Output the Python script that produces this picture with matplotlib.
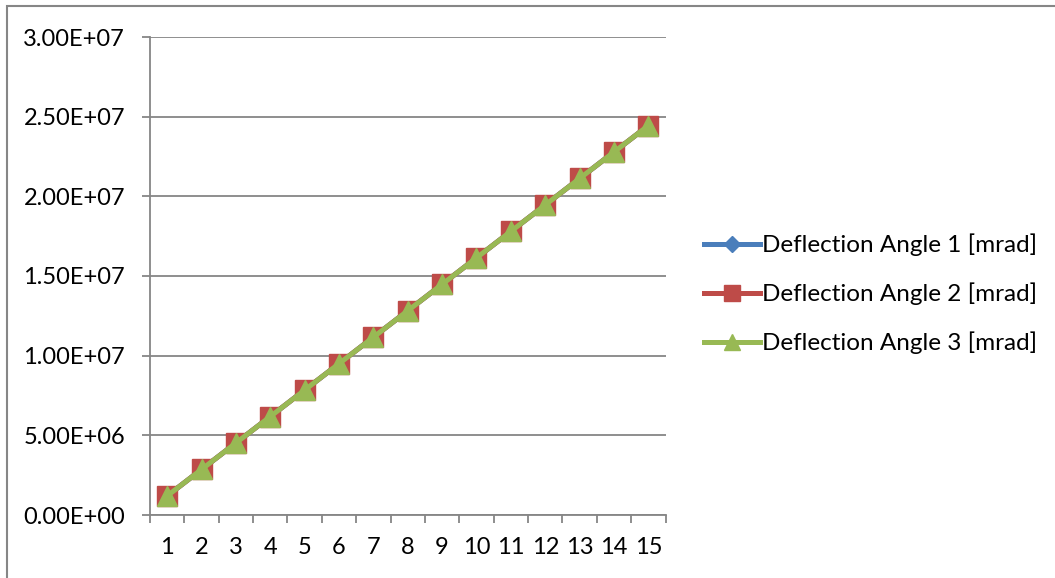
import matplotlib
matplotlib.use("Agg")
import matplotlib.pyplot as plt
from matplotlib.patches import Rectangle
from matplotlib.ticker import FixedLocator, FuncFormatter

plt.rcParams["font.family"] = ["Lato", "DejaVu Sans"]

steps = list(range(1, 16))
angle_1 = [1.20e6, 2.86e6, 4.52e6, 6.18e6, 7.84e6, 9.50e6, 11.16e6, 12.82e6,
           14.48e6, 16.14e6, 17.80e6, 19.46e6, 21.12e6, 22.78e6, 24.44e6]
angle_2 = [1.20e6, 2.86e6, 4.52e6, 6.18e6, 7.84e6, 9.50e6, 11.16e6, 12.82e6,
           14.48e6, 16.14e6, 17.80e6, 19.46e6, 21.12e6, 22.78e6, 24.44e6]
angle_3 = [1.20e6, 2.86e6, 4.52e6, 6.18e6, 7.84e6, 9.50e6, 11.16e6, 12.82e6,
           14.48e6, 16.14e6, 17.80e6, 19.46e6, 21.12e6, 22.78e6, 24.44e6]
labels = ["Deflection Angle 1 [mrad]", "Deflection Angle 2 [mrad]",
          "Deflection Angle 3 [mrad]"]

W, H = 1055, 578
GRID = "#868686"

fig = plt.figure(figsize=(W / 100, H / 100), dpi=100)
fig.patches.append(Rectangle((7 / W, -0.05), 1.1, 1 - 6 / H + 0.05,
                             transform=fig.transFigure, fill=False,
                             edgecolor=GRID, linewidth=1.5, zorder=0))

ax = fig.add_axes([150 / W, (H - 515) / H, 515.5 / W, 478 / H])

ax.plot(steps, angle_1, color="#4A7EBB", lw=3.6, marker="D", ms=10,
        label=labels[0], zorder=3)
ax.plot(steps, angle_2, color="#BE4B48", lw=3.6, marker="s", ms=14,
        label=labels[1], zorder=4)
ax.plot(steps, angle_3, color="#98B954", lw=3.6, marker="^", ms=15,
        label=labels[2], zorder=5)

ax.set_xlim(0.5, 15.5)
ax.set_ylim(0, 3.0e7)
ax.set_yticks([i * 5e6 for i in range(7)])
ax.yaxis.set_major_formatter(FuncFormatter(lambda v, p: f"{v:.2E}"))
ax.set_xticks(steps)
ax.xaxis.set_minor_locator(FixedLocator([s + 0.5 for s in range(0, 16)]))

ax.tick_params(axis="x", which="major", length=0, pad=16, labelsize=17)
ax.tick_params(axis="x", which="minor", length=6, width=1.3, color=GRID)
ax.tick_params(axis="y", length=6, width=1.3, color=GRID, pad=12, labelsize=17)

ax.grid(axis="y", color=GRID, lw=1.3)
ax.set_axisbelow(True)
for side in ("top", "right"):
    ax.spines[side].set_visible(False)
for side in ("left", "bottom"):
    ax.spines[side].set_color(GRID)
    ax.spines[side].set_linewidth(1.3)

fig.legend(loc="center left", bbox_to_anchor=(704 / W, 1 - 294 / H),
           frameon=False, fontsize=17.5, handlelength=2.3, handletextpad=0.1,
           labelspacing=1.08, borderaxespad=0, borderpad=0, markerscale=0.8)

fig.savefig("out.png", dpi=100)
